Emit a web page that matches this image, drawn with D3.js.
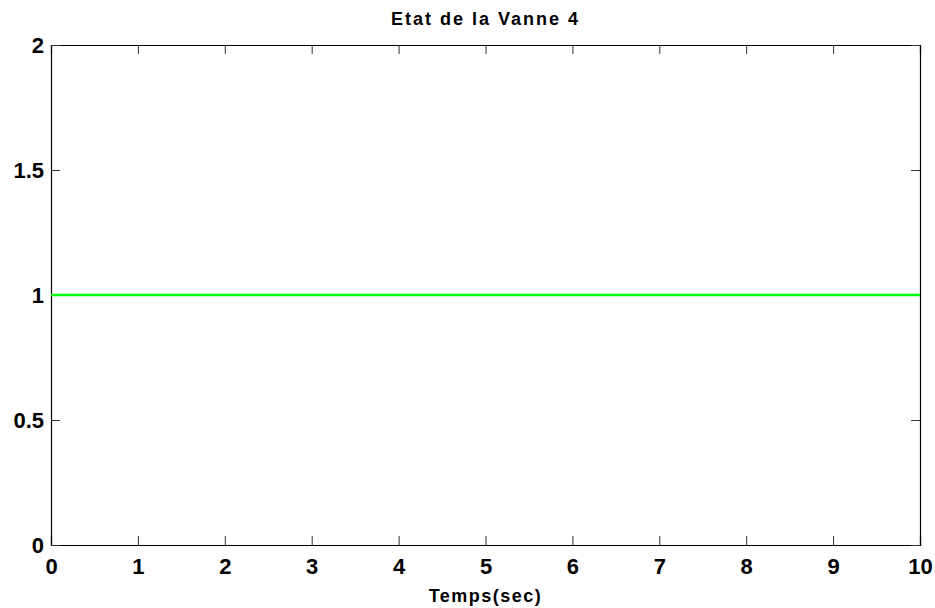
<!doctype html>
<html lang="en">
<head>
  <meta charset="utf-8">
  <title>Etat de la Vanne 4</title>
  <script src="https://d3js.org/d3.v7.min.js"></script>
  <style>
    body { margin: 0; background: #fff; }
    text { font-family: "Liberation Sans", Arial, sans-serif; font-weight: bold; fill: #000; }
  </style>
</head>
<body>
  <div id="chart"></div>
  <script type="text/javascript">
    // signal data (time in sec, valve state)
    var timeValues = [0, 10];
    var stateValues = [1, 1];
    var xTickValues = [0, 1, 2, 3, 4, 5, 6, 7, 8, 9, 10];
    var yTickValues = [0, 0.5, 1, 1.5, 2];

    var width = 935, height = 608;
    // plot box (window.top is reserved, so use other names)
    var plotLeft = 51, plotRight = 920, plotTop = 45, plotBottom = 545;

    var svg = d3.select('#chart')
      .append('svg')
      .attr('width', width)
      .attr('height', height);

    var x = d3.scaleLinear().domain([0, 10]).range([plotLeft, plotRight]);
    var y = d3.scaleLinear().domain([0, 2]).range([plotBottom, plotTop]);

    // ticks on all four sides, pointing inward
    svg.append('g')
      .attr('transform', 'translate(0,' + plotBottom + ')')
      .call(d3.axisBottom(x).tickValues(xTickValues).tickSize(-9).tickFormat(d3.format('d')))
      .call(function(g) {
        g.selectAll('text').style('font-size', '22px').attr('dy', '0.71em').attr('y', 13);
      });

    svg.append('g')
      .attr('transform', 'translate(0,' + plotTop + ')')
      .call(d3.axisTop(x).tickValues(xTickValues).tickSize(-9).tickFormat(''));

    svg.append('g')
      .attr('transform', 'translate(' + plotLeft + ',0)')
      .call(d3.axisLeft(y).tickValues(yTickValues).tickSize(-9).tickFormat(function(d) { return d; }))
      .call(function(g) {
        g.selectAll('text').style('font-size', '22px').attr('x', -7);
      });

    svg.append('g')
      .attr('transform', 'translate(' + plotRight + ',0)')
      .call(d3.axisRight(y).tickValues(yTickValues).tickSize(-9).tickFormat(''));

    svg.selectAll('.domain').attr('stroke', '#000').attr('stroke-width', 1.2);
    svg.selectAll('.tick line').attr('stroke', '#333');

    // the signal
    var line = d3.line()
      .x(function(d, i) { return x(timeValues[i]); })
      .y(function(d) { return y(d); });

    svg.append('path')
      .datum(stateValues)
      .attr('d', line)
      .attr('fill', 'none')
      .attr('stroke', '#00ff00')
      .attr('stroke-width', 2.6);

    svg.append('text')
      .attr('x', (plotLeft + plotRight) / 2)
      .attr('y', 25)
      .attr('text-anchor', 'middle')
      .style('font-size', '18px')
      .style('letter-spacing', '2px')
      .text('Etat de la Vanne 4');

    svg.append('text')
      .attr('x', (plotLeft + plotRight) / 2)
      .attr('y', 602)
      .attr('text-anchor', 'middle')
      .style('font-size', '18px')
      .style('letter-spacing', '1.5px')
      .text('Temps(sec)');
  </script>
</body>
</html>
